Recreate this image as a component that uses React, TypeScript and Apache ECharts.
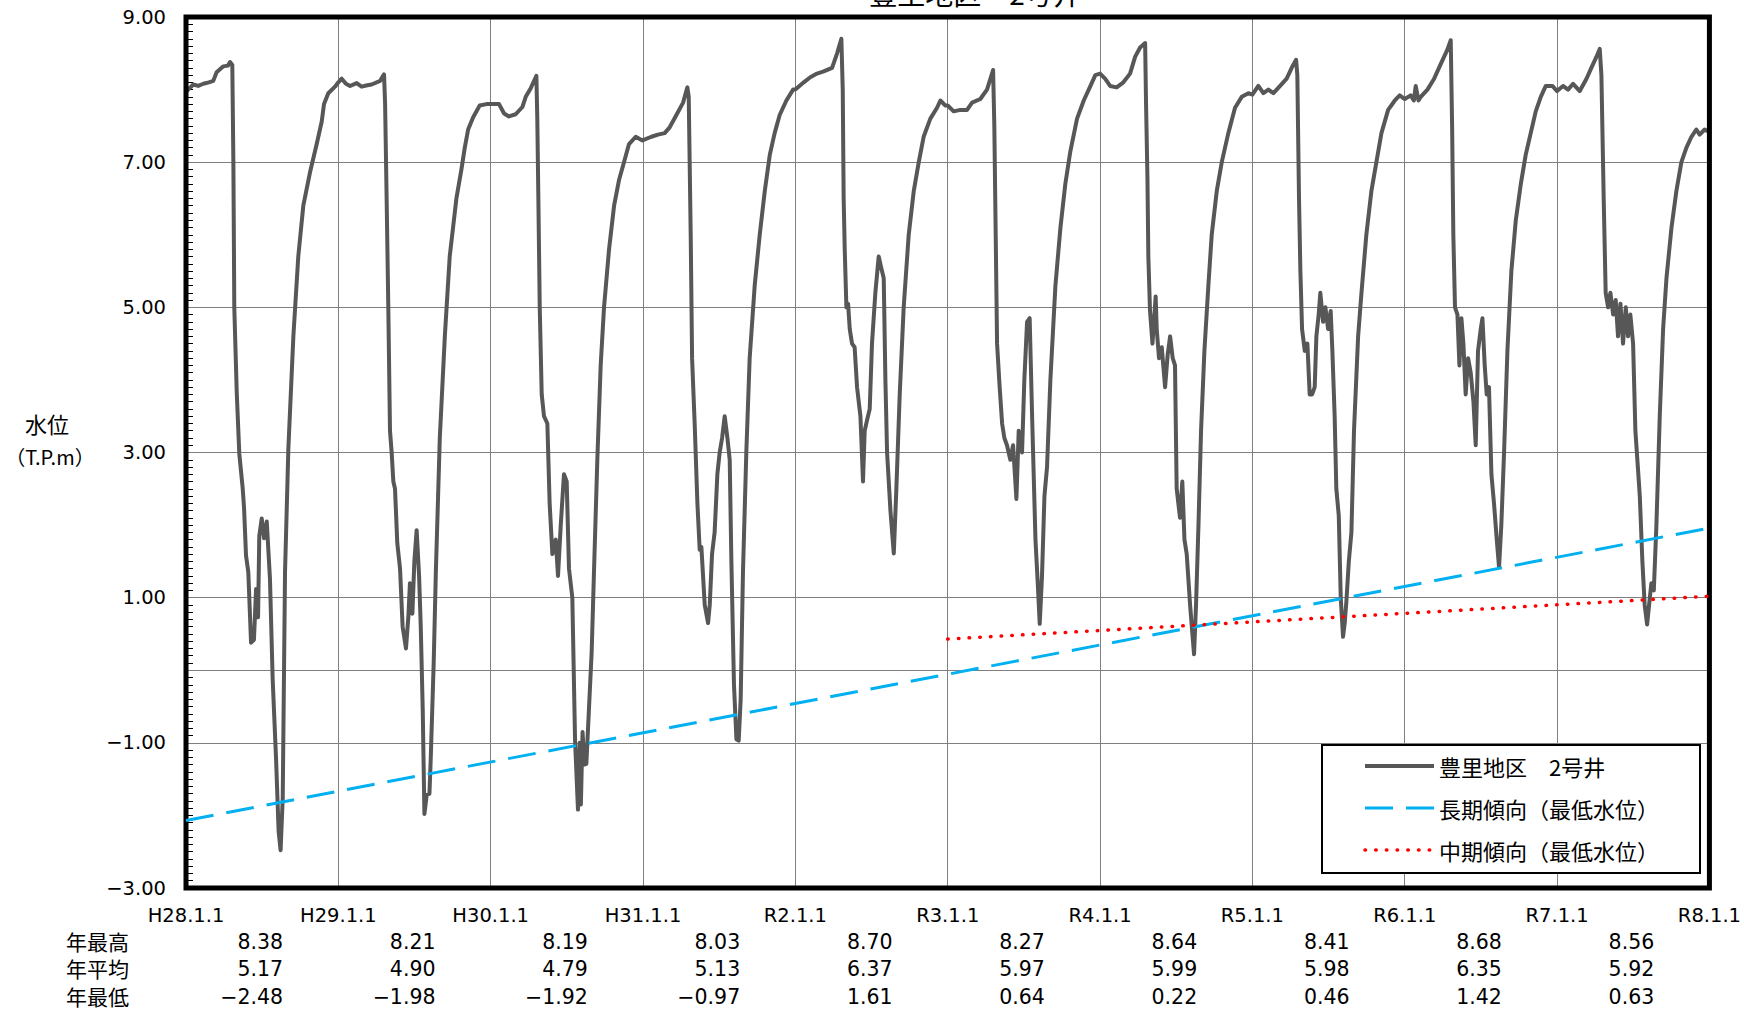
import React, { useEffect, useRef } from 'react';
import * as echarts from 'echarts';

// ---- Axis / labels ----
const startYear = 2016;
const endYear = 2026;
const xTickLabels = ['H28.1.1', 'H29.1.1', 'H30.1.1', 'H31.1.1', 'R2.1.1', 'R3.1.1', 'R4.1.1', 'R5.1.1', 'R6.1.1', 'R7.1.1', 'R8.1.1'];
const yLabelValues = [9, 7, 5, 3, 1, -1, -3];
const hGridValues = [7, 5, 3, 1, 0, -1];
const statYears = ['2016', '2017', '2018', '2019', '2020', '2021', '2022', '2023', '2024', '2025'];
const statRowNames = ['年最高', '年平均', '年最低'];
const annualMax = [8.38, 8.21, 8.19, 8.03, 8.7, 8.27, 8.64, 8.41, 8.68, 8.56];
const annualMean = [5.17, 4.9, 4.79, 5.13, 6.37, 5.97, 5.99, 5.98, 6.35, 5.92];
const annualMin = [-2.48, -1.98, -1.92, -0.97, 1.61, 0.64, 0.22, 0.46, 1.42, 0.63];

const titleText = '豊里地区　2号井';
const seriesNames = ['豊里地区　2号井', '長期傾向（最低水位）', '中期傾向（最低水位）'];
const seriesColors = ['#575757', '#00B0F0', '#FF0000'];

// ---- Trend lines [year, value] ----
const longTrend = [[2016, -2.07], [2026, 1.96]];
const midTrend = [[2021, 0.43], [2026, 1.02]];

// ---- Water level, per year: [fraction of year, value (T.P.m)] ----
const wl2016 = [[0.0, 7.97], [0.048, 8.07], [0.08, 8.05], [0.114, 8.08], [0.15, 8.1], [0.179, 8.12], [0.201, 8.24], [0.245, 8.32], [0.275, 8.33], [0.289, 8.38], [0.304, 8.34], [0.311, 7.0], [0.317, 5.0], [0.333, 3.83], [0.35, 2.98], [0.372, 2.51], [0.381, 2.24], [0.394, 1.58], [0.409, 1.35], [0.427, 0.38], [0.446, 0.42], [0.46, 1.12], [0.473, 0.73], [0.481, 1.85], [0.497, 2.09], [0.512, 1.82], [0.53, 2.05], [0.551, 1.27], [0.569, -0.13], [0.591, -1.21], [0.608, -2.22], [0.621, -2.48], [0.635, -1.76], [0.65, 1.35], [0.672, 3.06], [0.705, 4.61], [0.737, 5.7], [0.77, 6.4], [0.814, 6.86], [0.858, 7.25], [0.891, 7.56], [0.906, 7.8], [0.934, 7.95], [0.978, 8.04]];
const wl2017 = [[0.0, 8.1], [0.022, 8.15], [0.05, 8.08], [0.077, 8.05], [0.12, 8.09], [0.153, 8.04], [0.19, 8.06], [0.219, 8.07], [0.274, 8.12], [0.3, 8.21], [0.307, 7.8], [0.317, 6.5], [0.328, 5.0], [0.339, 3.3], [0.35, 3.0], [0.361, 2.6], [0.372, 2.5], [0.387, 1.75], [0.405, 1.4], [0.422, 0.6], [0.444, 0.3], [0.46, 0.75], [0.47, 1.2], [0.486, 0.78], [0.499, 1.5], [0.514, 1.93], [0.53, 1.3], [0.541, 0.6], [0.554, -0.55], [0.565, -1.98], [0.58, -1.72], [0.598, -1.7], [0.606, -1.25], [0.626, 0.11], [0.64, 1.35], [0.666, 3.2], [0.699, 4.6], [0.731, 5.7], [0.775, 6.5], [0.808, 6.9], [0.83, 7.2], [0.852, 7.45], [0.885, 7.62], [0.928, 7.78], [0.972, 7.8]];
const wl2018 = [[0.0, 7.8], [0.055, 7.8], [0.088, 7.67], [0.12, 7.63], [0.164, 7.66], [0.208, 7.76], [0.23, 7.9], [0.263, 8.02], [0.3, 8.19], [0.306, 7.6], [0.313, 6.5], [0.322, 5.0], [0.335, 3.8], [0.35, 3.5], [0.372, 3.4], [0.387, 2.3], [0.405, 1.6], [0.427, 1.8], [0.442, 1.3], [0.46, 2.0], [0.481, 2.7], [0.499, 2.6], [0.514, 1.4], [0.536, 1.0], [0.554, -0.98], [0.573, -1.92], [0.584, -1.0], [0.592, -1.85], [0.603, -0.85], [0.615, -1.3], [0.628, -1.29], [0.663, 0.26], [0.678, 1.35], [0.7, 2.9], [0.722, 4.2], [0.744, 5.0], [0.777, 5.8], [0.81, 6.4], [0.842, 6.75], [0.875, 7.0], [0.908, 7.25], [0.952, 7.35], [0.996, 7.3]];
const wl2019 = [[0.0, 7.3], [0.055, 7.35], [0.098, 7.38], [0.142, 7.4], [0.175, 7.48], [0.219, 7.65], [0.263, 7.82], [0.291, 8.03], [0.3, 7.9], [0.313, 6.0], [0.322, 4.3], [0.339, 3.4], [0.357, 2.3], [0.372, 1.66], [0.383, 1.7], [0.405, 0.9], [0.427, 0.65], [0.438, 0.9], [0.453, 1.6], [0.47, 1.9], [0.488, 2.7], [0.503, 3.0], [0.519, 3.2], [0.536, 3.5], [0.554, 3.2], [0.569, 2.9], [0.58, 1.5], [0.597, -0.2], [0.613, -0.95], [0.628, -0.97], [0.641, -0.4], [0.656, 1.35], [0.678, 3.0], [0.7, 4.3], [0.733, 5.3], [0.766, 6.0], [0.799, 6.6], [0.832, 7.1], [0.864, 7.4], [0.897, 7.65], [0.941, 7.85], [0.985, 8.0]];
const wl2020 = [[0.0, 8.0], [0.055, 8.1], [0.098, 8.17], [0.142, 8.22], [0.186, 8.25], [0.241, 8.3], [0.274, 8.5], [0.302, 8.7], [0.311, 8.0], [0.317, 6.5], [0.324, 5.8], [0.335, 5.0], [0.346, 5.05], [0.357, 4.7], [0.372, 4.5], [0.389, 4.45], [0.405, 3.9], [0.427, 3.5], [0.444, 2.6], [0.455, 3.3], [0.471, 3.45], [0.488, 3.6], [0.503, 4.5], [0.525, 5.2], [0.547, 5.7], [0.563, 5.55], [0.58, 5.4], [0.591, 4.0], [0.602, 3.0], [0.624, 2.2], [0.646, 1.61], [0.663, 2.5], [0.685, 3.8], [0.711, 5.0], [0.744, 6.0], [0.777, 6.6], [0.81, 7.0], [0.842, 7.35], [0.886, 7.6], [0.93, 7.75], [0.952, 7.85], [0.985, 7.78]];
const wl2021 = [[0.0, 7.78], [0.039, 7.7], [0.083, 7.72], [0.127, 7.72], [0.16, 7.82], [0.214, 7.87], [0.258, 8.0], [0.298, 8.27], [0.306, 7.5], [0.315, 6.0], [0.324, 4.5], [0.341, 3.9], [0.357, 3.4], [0.372, 3.2], [0.389, 3.1], [0.411, 2.9], [0.429, 3.1], [0.451, 2.36], [0.466, 3.3], [0.488, 3.0], [0.503, 4.0], [0.521, 4.8], [0.538, 4.85], [0.554, 3.5], [0.576, 1.8], [0.591, 1.2], [0.604, 0.64], [0.619, 1.3], [0.635, 2.4], [0.652, 2.8], [0.674, 4.0], [0.707, 5.3], [0.74, 6.1], [0.772, 6.7], [0.805, 7.15], [0.849, 7.6], [0.893, 7.85], [0.937, 8.05], [0.969, 8.2]];
const wl2022 = [[0.0, 8.22], [0.033, 8.15], [0.066, 8.05], [0.109, 8.03], [0.153, 8.1], [0.197, 8.22], [0.23, 8.45], [0.263, 8.58], [0.296, 8.64], [0.302, 7.8], [0.311, 6.8], [0.317, 5.7], [0.328, 4.95], [0.344, 4.5], [0.357, 4.9], [0.365, 5.15], [0.372, 4.7], [0.387, 4.3], [0.405, 4.45], [0.427, 3.9], [0.444, 4.35], [0.46, 4.6], [0.477, 4.3], [0.492, 4.2], [0.503, 2.5], [0.525, 2.1], [0.54, 2.6], [0.554, 1.8], [0.569, 1.6], [0.591, 0.9], [0.606, 0.5], [0.617, 0.22], [0.63, 0.9], [0.646, 2.0], [0.663, 3.3], [0.685, 4.4], [0.711, 5.3], [0.733, 6.0], [0.766, 6.6], [0.799, 7.0], [0.842, 7.4], [0.886, 7.75], [0.93, 7.9], [0.974, 7.95]];
const wl2023 = [[0.0, 7.93], [0.039, 8.05], [0.072, 7.95], [0.105, 8.0], [0.138, 7.95], [0.182, 8.05], [0.225, 8.15], [0.258, 8.3], [0.287, 8.41], [0.295, 8.2], [0.306, 6.5], [0.315, 5.5], [0.326, 4.7], [0.344, 4.4], [0.361, 4.5], [0.376, 3.8], [0.392, 3.8], [0.409, 3.9], [0.42, 4.6], [0.435, 4.9], [0.446, 5.2], [0.464, 4.8], [0.479, 5.0], [0.497, 4.7], [0.514, 4.95], [0.525, 4.4], [0.54, 3.5], [0.551, 2.5], [0.567, 2.13], [0.58, 1.0], [0.595, 0.46], [0.606, 0.65], [0.617, 0.95], [0.633, 1.5], [0.65, 1.9], [0.667, 3.3], [0.694, 4.6], [0.716, 5.2], [0.748, 6.0], [0.781, 6.6], [0.814, 7.0], [0.847, 7.4], [0.891, 7.72], [0.935, 7.85], [0.967, 7.92]];
const wl2024 = [[0.0, 7.87], [0.039, 7.92], [0.06, 7.85], [0.072, 8.05], [0.09, 7.85], [0.105, 7.9], [0.149, 8.0], [0.193, 8.15], [0.236, 8.35], [0.28, 8.55], [0.302, 8.68], [0.311, 7.5], [0.319, 6.0], [0.33, 5.0], [0.346, 4.9], [0.359, 4.2], [0.372, 4.85], [0.385, 4.5], [0.4, 3.8], [0.416, 4.3], [0.433, 4.1], [0.451, 3.7], [0.466, 3.1], [0.481, 4.4], [0.499, 4.7], [0.51, 4.85], [0.525, 4.2], [0.538, 3.8], [0.553, 3.9], [0.569, 2.7], [0.586, 2.3], [0.604, 1.8], [0.619, 1.42], [0.634, 2.0], [0.652, 3.0], [0.674, 4.4], [0.7, 5.5], [0.729, 6.2], [0.762, 6.7], [0.794, 7.1], [0.827, 7.4], [0.86, 7.7], [0.893, 7.9], [0.926, 8.05], [0.969, 8.05]];
const wl2025 = [[0.0, 7.98], [0.039, 8.05], [0.072, 8.0], [0.105, 8.08], [0.149, 7.98], [0.193, 8.15], [0.225, 8.3], [0.258, 8.45], [0.28, 8.56], [0.291, 8.2], [0.306, 6.5], [0.319, 5.2], [0.335, 5.0], [0.35, 5.2], [0.368, 4.9], [0.385, 5.1], [0.4, 4.6], [0.416, 5.05], [0.433, 4.5], [0.451, 5.0], [0.466, 4.6], [0.481, 4.9], [0.499, 4.5], [0.514, 3.3], [0.527, 2.9], [0.543, 2.4], [0.56, 1.5], [0.575, 0.9], [0.591, 0.63], [0.604, 0.9], [0.619, 1.2], [0.635, 1.1], [0.652, 2.0], [0.674, 3.5], [0.696, 4.7], [0.718, 5.4], [0.751, 6.1], [0.783, 6.6], [0.816, 7.0], [0.849, 7.2], [0.882, 7.35], [0.914, 7.45], [0.936, 7.38], [0.969, 7.45], [0.995, 7.42]];
const levelByYear = [wl2016, wl2017, wl2018, wl2019, wl2020, wl2021, wl2022, wl2023, wl2024, wl2025];

const NUM = '"DejaVu Sans", "Liberation Sans", sans-serif';
const CJK = '"Noto Sans CJK JP", "Noto Sans", sans-serif';

const fmt = (v: number) => (v < 0 ? '\u2212' : '') + Math.abs(v).toFixed(2);

const lineStyles: any[] = [
  { color: seriesColors[0], width: 4, type: 'solid', join: 'round' },
  { color: seriesColors[1], width: 3, type: [28, 13] },
  { color: seriesColors[2], width: 3.5, type: [0.5, 10.2], cap: 'round' },
];

function buildOption() {
  const levelData = levelByYear.flatMap((arr, i) => arr.map(([f, v]) => [startYear + i + f, v]));
  const statRows = [annualMax, annualMean, annualMin];
  const statOffsets = [53, 80, 108];

  const statAxes = statRows.map((row, r) => ({
    type: 'category',
    gridIndex: 0,
    position: 'bottom',
    offset: statOffsets[r],
    data: statYears,
    boundaryGap: true,
    axisLine: { show: false },
    axisTick: { show: false },
    splitLine: { show: false },
    axisLabel: {
      interval: 0,
      margin: -10,
      formatter: (_v: string, idx: number) => `{v|${fmt(row[idx])}}`,
      rich: { v: { width: 42, align: 'right', fontSize: 20.5, fontFamily: NUM, color: '#000' } },
    },
    name: statRowNames[r],
    nameLocation: 'start',
    nameGap: 57,
    nameTextStyle: { fontSize: 21, fontFamily: CJK, color: '#000', align: 'right', verticalAlign: 'middle', lineHeight: 22 },
  }));

  return {
    animation: false,
    backgroundColor: '#fff',
    grid: {
      left: 186, right: 34, top: 17, bottom: 123,
      show: true, borderColor: '#000', borderWidth: 5, backgroundColor: 'transparent', z: 3,
    },
    xAxis: [
      {
        type: 'value',
        min: startYear,
        max: endYear,
        interval: 1,
        axisLine: { show: false },
        axisTick: { show: false },
        splitLine: { show: true, showMinLine: false, showMaxLine: false, lineStyle: { color: '#7f7f7f', width: 1 } },
        axisLabel: {
          margin: 17,
          fontSize: 19.5,
          fontFamily: NUM,
          color: '#000',
          showMinLabel: true,
          showMaxLabel: true,
          formatter: (v: number) => xTickLabels[Math.round(v - startYear)] ?? '',
        },
      },
      ...statAxes,
    ],
    yAxis: {
      type: 'value',
      min: -3,
      max: 9,
      interval: 1,
      axisLine: { show: false },
      axisTick: { show: true, inside: true, length: 7, lineStyle: { color: '#000', width: 1 } },
      minorTick: { show: true, splitNumber: 10, length: 7, lineStyle: { color: '#000', width: 1 } },
      splitLine: { show: false },
      axisLabel: {
        margin: 20,
        fontSize: 19.5,
        fontFamily: NUM,
        color: '#000',
        formatter: (v: number) => (yLabelValues.includes(Math.round(v)) ? fmt(v) : ''),
      },
    },
    legend: {
      orient: 'vertical',
      left: 1322,
      top: 745,
      padding: [10, 41, 12, 41],
      itemGap: 20,
      itemWidth: 69,
      itemHeight: 14,
      backgroundColor: '#fff',
      borderColor: '#000',
      borderWidth: 2,
      borderRadius: 0,
      data: seriesNames.map((name, i) => ({ name, lineStyle: { ...lineStyles[i] } })),
      itemStyle: { color: 'transparent', borderColor: 'transparent', borderWidth: 0, opacity: 0 },
      lineStyle: { width: 'inherit', cap: 'inherit' },
      textStyle: { fontSize: 22, fontFamily: CJK, color: '#000' },
    },
    graphic: [
      {
        type: 'text', x: 975, y: 7, silent: true,
        style: { text: titleText, fontSize: 28, fontFamily: CJK, fill: '#000', align: 'center', verticalAlign: 'bottom' },
      },
      {
        type: 'text', x: 47, y: 423, silent: true,
        style: { text: '水位', fontSize: 22, fontFamily: CJK, fill: '#000', align: 'center', verticalAlign: 'middle' },
      },
      {
        type: 'text', x: 50, y: 456, silent: true,
        style: { text: '（T.P.m）', fontSize: 20, fontFamily: CJK, fill: '#000', align: 'center', verticalAlign: 'middle' },
      },
    ],
    series: [
      {
        name: seriesNames[0],
        type: 'line',
        data: levelData,
        symbol: 'none',
        smooth: false,
        lineStyle: lineStyles[0],
        itemStyle: { color: seriesColors[0] },
        z: 2,
        markLine: {
          silent: true,
          z: 1,
          symbol: ['none', 'none'],
          label: { show: false },
          lineStyle: { color: '#7f7f7f', width: 1, type: 'solid' },
          emphasis: { disabled: true },
          data: hGridValues.map((v) => ({ yAxis: v })),
        },
      },
      {
        name: seriesNames[1],
        type: 'line',
        data: longTrend,
        symbol: 'none',
        lineStyle: lineStyles[1],
        itemStyle: { color: seriesColors[1] },
        z: 3,
      },
      {
        name: seriesNames[2],
        type: 'line',
        data: midTrend,
        symbol: 'none',
        lineStyle: lineStyles[2],
        itemStyle: { color: seriesColors[2] },
        z: 4,
      },
    ],
  };
}

export default function App() {
  const ref = useRef<HTMLDivElement>(null);
  useEffect(() => {
    document.body.style.margin = '0';
    document.body.style.overflow = 'hidden';
    const chart = echarts.init(ref.current as HTMLDivElement, null, { renderer: 'svg' });
    chart.setOption(buildOption() as any);
    return () => chart.dispose();
  }, []);
  return <div ref={ref} style={{ width: 1744, height: 1011 }} />;
}
